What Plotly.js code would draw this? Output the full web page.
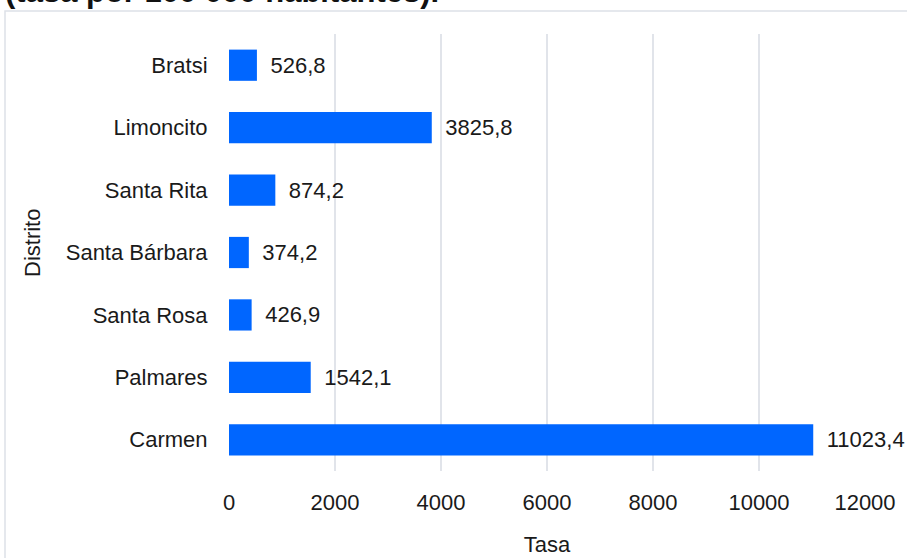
<!DOCTYPE html>
<html>
<head>
<meta charset="utf-8">
<script src="https://cdn.plot.ly/plotly-3.0.1.min.js"></script>
<style>html,body{margin:0;padding:0;background:#fff;}#chart{width:907px;height:558px;}</style>
</head>
<body>
<div id="chart"></div>
<script>
const districts = ["Bratsi", "Limoncito", "Santa Rita", "Santa Bárbara", "Santa Rosa", "Palmares", "Carmen"];
const rates = [526.8, 3825.8, 874.2, 374.2, 426.9, 1542.1, 11023.4];
const xTicks = [0, 2000, 4000, 6000, 8000, 10000, 12000];
const titleText = "(tasa por 100 000 habitantes).";
const xTitle = "Tasa";
const yTitle = "Distrito";

const labels = rates.map(v => "\u00a0\u2009" + v.toFixed(1).replace(".", ","));
const FONT = "Arial, 'Liberation Sans', sans-serif";
const W = 907, H = 558, L = 229, R = 42, T = 34, B = 87;
const pw = W - L - R, ph = H - T - B;
const px = x => (x - L) / pw;
const py = y => (H - B - y) / ph;

const data = [{
  type: "bar",
  orientation: "h",
  y: districts,
  x: rates,
  text: labels,
  textposition: "outside",
  cliponaxis: false,
  constraintext: "none",
  textfont: {family: FONT, size: 22, color: "#1a1a1a"},
  marker: {color: "#0066ff"},
  width: 0.5,
  hoverinfo: "none"
}];

const layout = {
  width: W, height: H,
  margin: {l: L, r: R, t: T, b: B, pad: 0},
  paper_bgcolor: "#fff", plot_bgcolor: "#fff",
  showlegend: false,
  font: {family: FONT, size: 22, color: "#1a1a1a"},
  xaxis: {
    range: [0, 12000],
    tickvals: xTicks,
    ticktext: xTicks.map(String),
    showgrid: true, gridcolor: "#e1e4ea", gridwidth: 1.5,
    zeroline: false, showline: false,
    ticks: "outside", ticklen: 12, tickcolor: "rgba(0,0,0,0)",
    tickfont: {family: FONT, size: 22, color: "#1a1a1a"},
    title: {text: xTitle, font: {family: FONT, size: 22, color: "#1a1a1a"}, standoff: 22}
  },
  yaxis: {
    categoryorder: "array", categoryarray: districts,
    autorange: "reversed",
    showgrid: false, zeroline: false, showline: false,
    ticks: "outside", ticklen: 16, tickcolor: "rgba(0,0,0,0)",
    tickfont: {family: FONT, size: 22, color: "#1a1a1a"}
  },
  shapes: [{
    type: "rect", xref: "paper", yref: "paper",
    x0: px(5), x1: 2, y0: -1, y1: py(11),
    line: {color: "#dde1e8", width: 1.5}, fillcolor: "rgba(0,0,0,0)", layer: "below"
  }],
  annotations: [{
    text: "<b>" + titleText + "</b>",
    xref: "paper", yref: "paper", x: px(3), y: 1,
    xanchor: "left", yanchor: "bottom", yshift: T - 11,
    showarrow: false,
    font: {family: FONT, size: 31, color: "#111"}
  }, {
    text: yTitle,
    xref: "paper", yref: "paper", x: px(32), y: py(243),
    xanchor: "center", yanchor: "middle", textangle: -90,
    showarrow: false,
    font: {family: FONT, size: 22, color: "#1a1a1a"}
  }]
};

Plotly.newPlot("chart", data, layout, {displayModeBar: false, staticPlot: true});
</script>
</body>
</html>
